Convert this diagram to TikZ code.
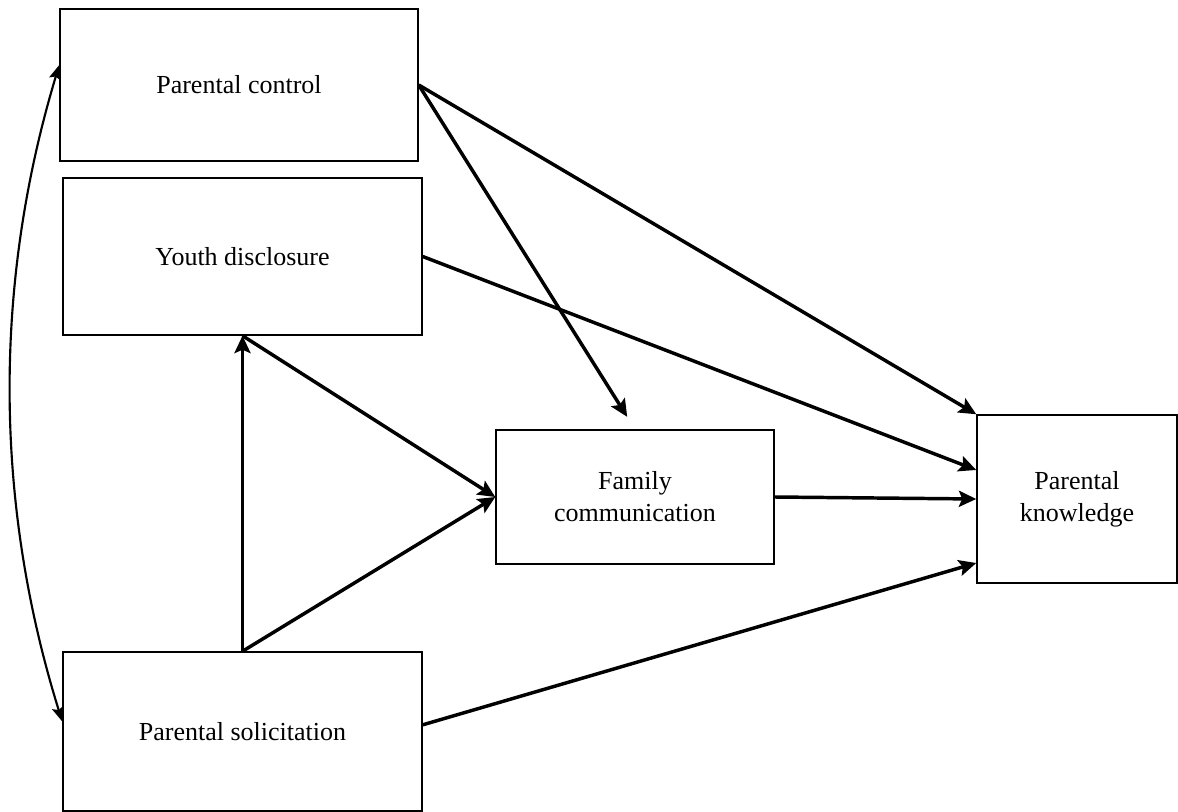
\documentclass[tikz,border=0pt]{standalone}
\usepackage{fontspec}
\setmainfont{Liberation Serif}
\usetikzlibrary{arrows.meta}

\tikzset{
box/.style={draw, line width=1.1pt, align=center, inner sep=0pt, font=\fontsize{19.5}{24}\selectfont},
arr/.style={-{Stealth[length=13pt,width=12pt,inset=2.5pt]}, line width=2.6pt},
corr/.style={{Stealth[length=11pt,width=9pt,inset=2pt]}-{Stealth[length=11pt,width=9pt,inset=2pt]}, line width=1.6pt},
}

\begin{document}
\begin{tikzpicture}[x=0.75pt,y=-0.75pt]
\useasboundingbox (0,0) rectangle (1178,812);

\node[box, minimum width=268.5pt, minimum height=114pt] (pc) at (239,85) {Parental control};
\node[box, minimum width=269.25pt, minimum height=117.75pt] (yd) at (242.5,256.5) {Youth disclosure};
\node[box, minimum width=208.5pt, minimum height=100.5pt] (fc) at (635,497) {Family\\communication};
\node[box, minimum width=150pt, minimum height=126pt] (pk) at (1077,499) {Parental\\knowledge};
\node[box, minimum width=269.25pt, minimum height=119.25pt] (ps) at (242.5,731.5) {Parental solicitation};

\draw[arr] (pc.east) -- (pk.north west);
\draw[arr, shorten >=11pt] (pc.east) -- (fc.north);
\draw[arr] (yd.east) -- ([yshift=21.75pt]pk.west);
\draw[arr] (fc.east) -- (pk.west);
\draw[arr] ([yshift=5pt]ps.east) -- ([yshift=-48pt]pk.west);

\draw[arr] (ps.north) -- (yd.south);
\draw[arr] (yd.south) -- (fc.west);
\draw[arr] (ps.north) -- (fc.west);

% correlation
\coordinate (c1) at ([yshift=15pt]pc.west);
\coordinate (c2) at ([yshift=7.5pt]ps.west);
\draw[corr] (c1) .. controls (-6.7,283.7) and (-6,502.3) .. (c2);
\end{tikzpicture}
\end{document}
